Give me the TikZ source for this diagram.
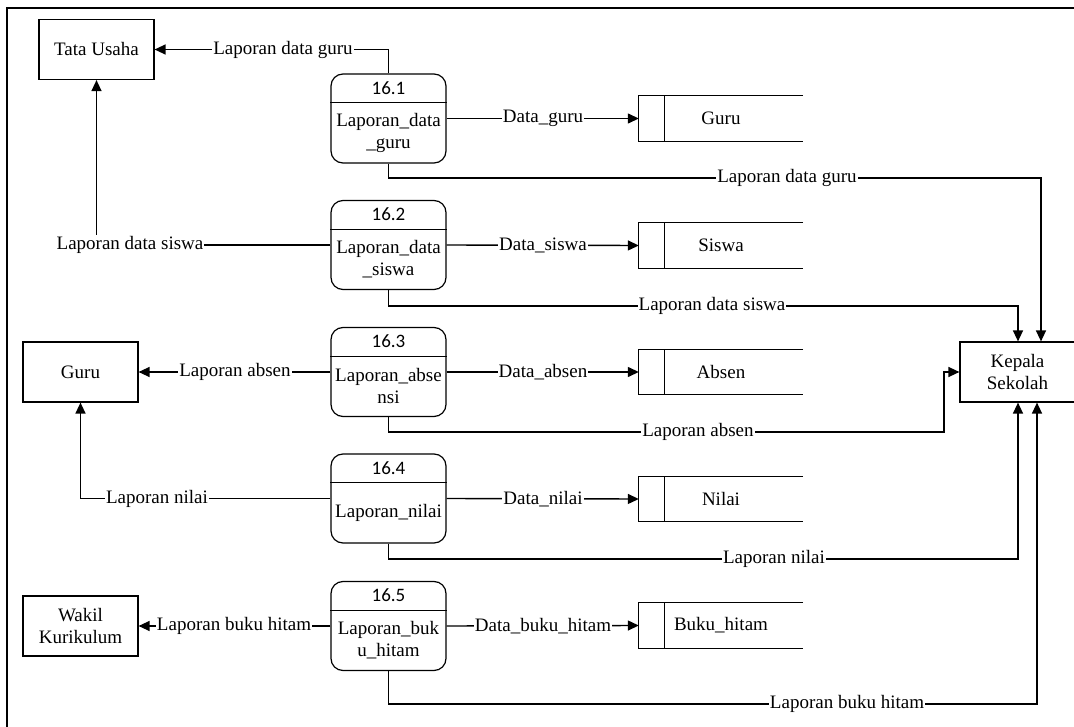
\documentclass[tikz,border=0pt]{standalone}
\usepackage{fontspec}
\setmainfont{Liberation Serif}
\newfontfamily\dfdfont{Liberation Serif}
\newfontfamily\numfont{Carlito}
\usepackage{tikz}
\usetikzlibrary{arrows.meta, positioning, calc}

\begin{document}
\begin{tikzpicture}[
    x=1pt, y=-1pt,
    every node/.style={font=\dfdfont\fontsize{19}{22}\selectfont},
    entity/.style={rectangle, draw, line width=1.2pt, minimum width=115pt, minimum height=60pt, inner sep=0pt, align=center},
    process/.style={rectangle, draw, line width=1.2pt, rounded corners=12pt, minimum width=115pt, minimum height=89pt, inner sep=0pt},
    procnum/.style={font=\numfont\fontsize{19}{22}\selectfont, minimum height=29pt, inner sep=0pt},
    procname/.style={minimum height=60pt, inner sep=0pt, align=center},
    store/.style={rectangle, minimum width=164pt, minimum height=45pt, inner sep=0pt},
    storeline/.style={line width=1.1pt},
    arrow/.style={-{Triangle[length=11pt,width=10pt]}, line width=1.4pt},
    flowlabel/.style={fill=white, inner sep=1pt}
]

\useasboundingbox (0,0) rectangle (1074,727);

% Frame (cut on the right and bottom)
\draw[line width=1.6pt] (7,731) |- (1078,8);

% External entities
\node[entity] (tata) at (96.5,49.5) {Tata Usaha};
\node[entity] (guru) at (80.5,372) {Guru};
\node[entity] (wakil) at (80.5,626) {Wakil\\Kurikulum};
\node[entity] (kepala) at (1017.5,372) {Kepala\\Sekolah};

% Processes
\node[process] (p1) at (388.5,118.5) {};
\node[procnum, below=0pt of p1.north] (n1) {16.1};
\node[procname, below=29pt of p1.north] (t1) {Laporan\_data\\\_guru};
\draw[line width=1.2pt] (p1.west |- n1.south) -- (p1.east |- n1.south);

\node[process] (p2) at (388.5,245) {};
\node[procnum, below=0pt of p2.north] (n2) {16.2};
\node[procname, below=29pt of p2.north] (t2) {Laporan\_data\\\_siswa};
\draw[line width=1.2pt] (p2.west |- n2.south) -- (p2.east |- n2.south);

\node[process] (p3) at (388.5,372) {};
\node[procnum, below=0pt of p3.north] (n3) {16.3};
\node[procname, below=29pt of p3.north] (t3) {Laporan\_abse\\nsi};
\draw[line width=1.2pt] (p3.west |- n3.south) -- (p3.east |- n3.south);

\node[process] (p4) at (388.5,498.5) {};
\node[procnum, below=0pt of p4.north] (n4) {16.4};
\node[procname, below=29pt of p4.north] (t4) {Laporan\_nilai};
\draw[line width=1.2pt] (p4.west |- n4.south) -- (p4.east |- n4.south);

\node[process] (p5) at (388.5,626) {};
\node[procnum, below=0pt of p5.north] (n5) {16.5};
\node[procname, below=29pt of p5.north] (t5) {Laporan\_buk\\u\_hitam};
\draw[line width=1.2pt] (p5.west |- n5.south) -- (p5.east |- n5.south);

% Data stores
\node[store] (sguru) at (721,118.5) {Guru};
\node[store] (ssiswa) at (721,245.5) {Siswa};
\node[store] (sabsen) at (721,372) {Absen};
\node[store] (snilai) at (721,499) {Nilai};
\node[store] (sbuku) at (721,625.5) {Buku\_hitam};
\draw[storeline] (sguru.north east) -- (sguru.north west) -- (sguru.south west) -- (sguru.south east);
\draw[storeline] ([xshift=26pt]sguru.north west) -- ([xshift=26pt]sguru.south west);
\draw[storeline] (ssiswa.north east) -- (ssiswa.north west) -- (ssiswa.south west) -- (ssiswa.south east);
\draw[storeline] ([xshift=26pt]ssiswa.north west) -- ([xshift=26pt]ssiswa.south west);
\draw[storeline] (sabsen.north east) -- (sabsen.north west) -- (sabsen.south west) -- (sabsen.south east);
\draw[storeline] ([xshift=26pt]sabsen.north west) -- ([xshift=26pt]sabsen.south west);
\draw[storeline] (snilai.north east) -- (snilai.north west) -- (snilai.south west) -- (snilai.south east);
\draw[storeline] ([xshift=26pt]snilai.north west) -- ([xshift=26pt]snilai.south west);
\draw[storeline] (sbuku.north east) -- (sbuku.north west) -- (sbuku.south west) -- (sbuku.south east);
\draw[storeline] ([xshift=26pt]sbuku.north west) -- ([xshift=26pt]sbuku.south west);

% Flows to the left entities
\draw[arrow] (p1.north) |- (tata.east);
\node[flowlabel] (l1) at (283,50) {Laporan data guru};
\draw[arrow] (p2.west) -| (tata.south);
\node[flowlabel] (l2) at (130,245) {Laporan data siswa};
\draw[arrow] (p3.west) -- (guru.east);
\node[flowlabel] (l3) at (235,372) {Laporan absen};
\draw[arrow] (p4.west) -| (guru.south);
\node[flowlabel] (l4) at (157,498.5) {Laporan nilai};
\draw[arrow] (p5.west) -- (wakil.east);
\node[flowlabel] (l5) at (234,626) {Laporan buku hitam};

% Flows to the data stores
\draw[arrow] (p1.east) -- (sguru.west);
\node[flowlabel] (d1) at (543,118.5) {Data\_guru};
\draw[arrow] (p2.east) -- (ssiswa.west);
\node[flowlabel] (d2) at (543,245.5) {Data\_siswa};
\draw[arrow] (p3.east) -- (sabsen.west);
\node[flowlabel] (d3) at (543,372) {Data\_absen};
\draw[arrow] (p4.east) -- (snilai.west);
\node[flowlabel] (d4) at (543,499) {Data\_nilai};
\draw[arrow] (p5.east) -- (sbuku.west);
\node[flowlabel] (d5) at (543,626) {Data\_buku\_hitam};

% Flows to Kepala Sekolah
\coordinate (k1) at (1041,178);
\coordinate (k2) at (1018,306);
\coordinate (k3) at (944,432);
\coordinate (k4) at (1018,559);
\coordinate (k5) at (1037,704);
\draw[arrow] (p1.south) |- (k1) -- (k1 |- kepala.north);
\node[flowlabel] (r1) at (787,178) {Laporan data guru};
\draw[arrow] (p2.south) |- (k2) -- (k2 |- kepala.north);
\node[flowlabel] (r2) at (712,306) {Laporan data siswa};
\draw[arrow] (p3.south) |- (k3) |- (kepala.west);
\node[flowlabel] (r3) at (698,432) {Laporan absen};
\draw[arrow] (p4.south) |- (k4) -- (k4 |- kepala.south);
\node[flowlabel] (r4) at (774,559) {Laporan nilai};
\draw[arrow] (p5.south) |- (k5) -- (k5 |- kepala.south);
\node[flowlabel] (r5) at (847,704) {Laporan buku hitam};

\end{tikzpicture}
\end{document}
